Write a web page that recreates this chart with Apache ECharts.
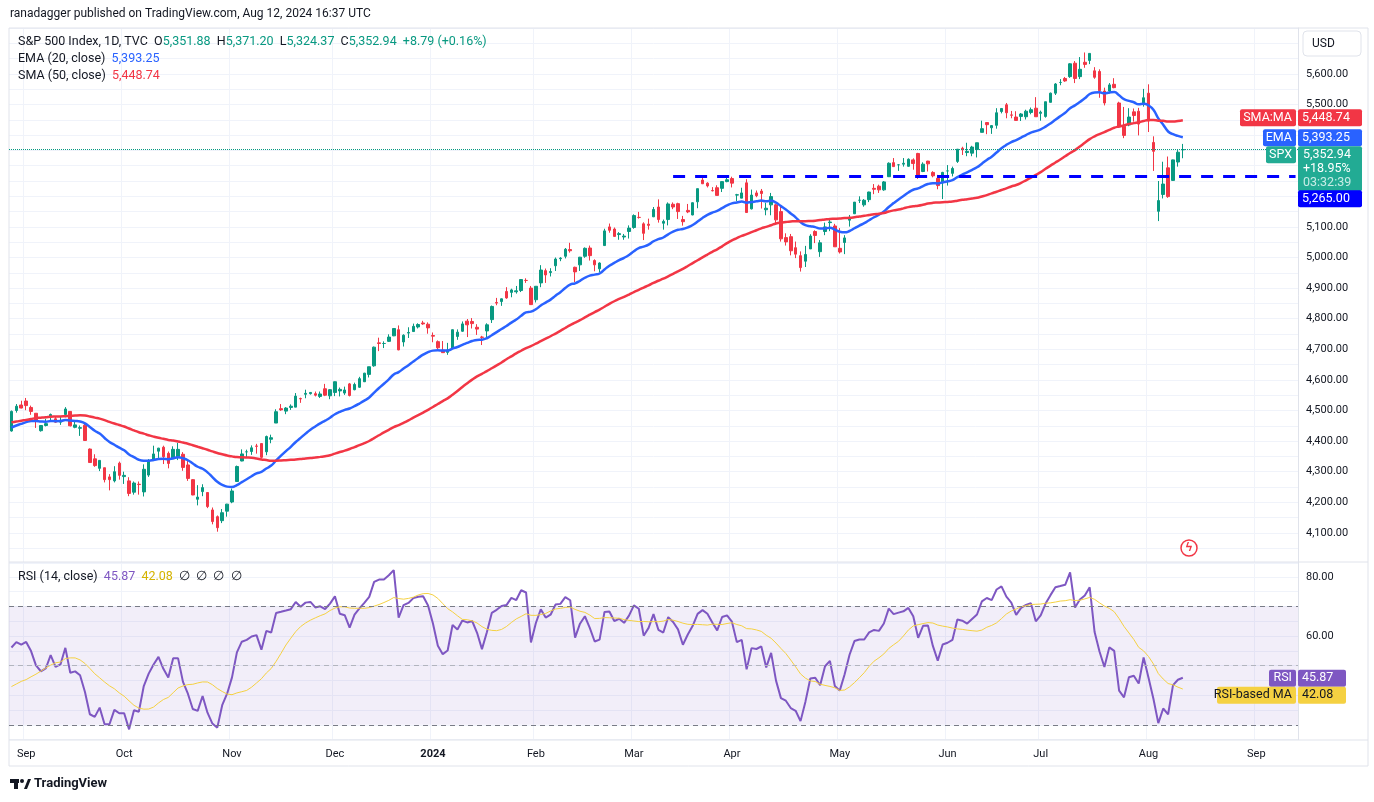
<!DOCTYPE html>
<html><head><meta charset="utf-8">
<script src="https://cdn.jsdelivr.net/npm/echarts@6/dist/echarts.min.js"></script>
<style>html,body{margin:0;padding:0;background:#fff}#c{width:1374px;height:802px}</style>
</head><body><div id="c"></div>
<script>
// warm-up closes (Jun 13 - Aug 28, 2023) used only to seed the moving averages / RSI
const warmupCloses=[4369,4373,4426,4410,4389,4366,4382,4348,4328,4378,4377,4396,4450,4455,4447,4412,4399,4410,4439,4472,4510,4505,4522,4555,4565,4534,4536,4555,4567,4566,4537,4582,4589,4577,4513,4502,4478,4518,4499,4468,4469,4464,4490,4437,4404,4370,4370,4400,4388,4436,4376,4406,4433];
// daily bars: date, open, high, low, close
const bars=[
['2023-08-29',4433,4500,4431,4497],['2023-08-30',4500,4521,4493,4514],['2023-08-31',4518,4532,4507,4508],
['2023-09-01',4531,4541,4501,4516],['2023-09-05',4510,4516,4486,4497],['2023-09-06',4491,4491,4443,4465],['2023-09-07',4434,4452,4431,4451],['2023-09-08',4451,4473,4448,4457],['2023-09-11',4480,4490,4468,4487],['2023-09-12',4473,4481,4460,4462],['2023-09-13',4462,4479,4453,4467],['2023-09-14',4487,4511,4478,4505],['2023-09-15',4497,4497,4448,4450],['2023-09-18',4445,4466,4442,4453],['2023-09-19',4442,4451,4417,4444],['2023-09-20',4452,4461,4401,4402],['2023-09-21',4374,4376,4329,4330],['2023-09-22',4342,4357,4316,4320],['2023-09-25',4311,4338,4302,4337],['2023-09-26',4313,4313,4265,4274],['2023-09-27',4283,4292,4239,4274],['2023-09-28',4270,4318,4265,4300],['2023-09-29',4328,4333,4274,4288],
['2023-10-02',4284,4300,4260,4288],['2023-10-03',4270,4282,4220,4229],['2023-10-04',4233,4268,4225,4263],['2023-10-05',4259,4268,4225,4258],['2023-10-06',4234,4324,4219,4308],['2023-10-09',4289,4341,4283,4336],['2023-10-10',4339,4385,4339,4358],['2023-10-11',4367,4378,4345,4377],['2023-10-12',4380,4385,4325,4349],['2023-10-13',4360,4366,4311,4327],['2023-10-16',4342,4383,4342,4373],['2023-10-17',4346,4394,4338,4373],['2023-10-18',4357,4364,4303,4314],['2023-10-19',4322,4339,4270,4278],['2023-10-20',4274,4276,4223,4224],['2023-10-23',4210,4256,4190,4217],['2023-10-24',4235,4259,4220,4248],['2023-10-25',4232,4232,4181,4186],['2023-10-26',4175,4183,4128,4137],['2023-10-27',4153,4157,4104,4117],['2023-10-30',4140,4178,4132,4166],['2023-10-31',4171,4195,4153,4194],
['2023-11-01',4201,4245,4197,4237],['2023-11-02',4268,4320,4268,4317],['2023-11-03',4335,4373,4334,4358],['2023-11-06',4365,4372,4347,4365],['2023-11-07',4366,4386,4355,4378],['2023-11-08',4384,4391,4359,4383],['2023-11-09',4392,4393,4343,4347],['2023-11-10',4365,4418,4354,4415],['2023-11-13',4406,4421,4393,4411],['2023-11-14',4459,4504,4459,4496],['2023-11-15',4506,4521,4499,4502],['2023-11-16',4498,4511,4488,4508],['2023-11-17',4510,4520,4502,4514],['2023-11-20',4511,4557,4511,4547],['2023-11-21',4539,4542,4525,4538],['2023-11-22',4553,4568,4540,4556],['2023-11-24',4555,4560,4552,4559],['2023-11-27',4555,4562,4546,4550],['2023-11-28',4546,4562,4541,4554],['2023-11-29',4571,4587,4547,4550],['2023-11-30',4548,4570,4537,4568],
['2023-12-01',4559,4595,4547,4594],['2023-12-04',4564,4575,4546,4569],['2023-12-05',4557,4578,4551,4567],['2023-12-06',4587,4590,4546,4549],['2023-12-07',4568,4591,4566,4585],['2023-12-08',4576,4610,4574,4604],['2023-12-11',4594,4623,4593,4622],['2023-12-12',4618,4643,4608,4643],['2023-12-13',4646,4709,4643,4707],['2023-12-14',4721,4738,4694,4719],['2023-12-15',4719,4726,4704,4719],['2023-12-18',4726,4749,4724,4740],['2023-12-19',4744,4768,4743,4768],['2023-12-20',4764,4778,4697,4698],['2023-12-21',4724,4749,4709,4746],['2023-12-22',4753,4772,4737,4755],['2023-12-26',4758,4784,4758,4775],['2023-12-27',4773,4785,4768,4781],['2023-12-28',4786,4793,4780,4783],['2023-12-29',4782,4788,4751,4770],
['2024-01-02',4745,4755,4723,4743],['2024-01-03',4725,4729,4699,4705],['2024-01-04',4697,4727,4688,4689],['2024-01-05',4690,4721,4682,4697],['2024-01-08',4703,4765,4703,4764],['2024-01-09',4742,4765,4731,4756],['2024-01-10',4759,4791,4757,4783],['2024-01-11',4792,4799,4740,4780],['2024-01-12',4791,4802,4768,4784],['2024-01-16',4772,4782,4747,4766],['2024-01-17',4740,4744,4714,4739],['2024-01-18',4760,4785,4740,4780],['2024-01-19',4797,4843,4786,4840],['2024-01-22',4853,4868,4844,4851],['2024-01-23',4856,4866,4842,4865],['2024-01-24',4889,4903,4865,4868],['2024-01-25',4886,4898,4870,4894],['2024-01-26',4888,4907,4882,4891],['2024-01-29',4892,4929,4887,4928],['2024-01-30',4925,4932,4917,4925],['2024-01-31',4900,4907,4845,4846],
['2024-02-01',4862,4906,4853,4906],['2024-02-02',4917,4975,4903,4959],['2024-02-05',4957,4964,4917,4943],['2024-02-06',4951,4965,4938,4954],['2024-02-07',4973,5000,4956,4995],['2024-02-08',4996,5001,4988,4998],['2024-02-09',5004,5031,4997,5027],['2024-02-12',5026,5048,5016,5022],['2024-02-13',4968,4970,4920,4953],['2024-02-14',4976,5002,4956,5001],['2024-02-15',5004,5033,4999,5030],['2024-02-16',5031,5039,4990,5006],['2024-02-20',4990,4994,4955,4976],['2024-02-21',4963,4984,4952,4982],['2024-02-22',5039,5094,5039,5087],['2024-02-23',5100,5111,5081,5089],['2024-02-26',5093,5098,5068,5069],['2024-02-27',5075,5083,5058,5078],['2024-02-28',5067,5077,5058,5070],['2024-02-29',5085,5105,5062,5096],
['2024-03-01',5098,5141,5094,5137],['2024-03-04',5131,5149,5127,5131],['2024-03-05',5110,5115,5057,5079],['2024-03-06',5109,5127,5091,5105],['2024-03-07',5133,5165,5132,5157],['2024-03-08',5165,5190,5114,5124],['2024-03-11',5112,5124,5091,5118],['2024-03-12',5124,5180,5105,5175],['2024-03-13',5174,5180,5158,5165],['2024-03-14',5176,5179,5126,5150],['2024-03-15',5124,5136,5104,5117],['2024-03-18',5154,5175,5145,5149],['2024-03-19',5139,5180,5138,5179],['2024-03-20',5182,5225,5161,5225],['2024-03-21',5253,5261,5240,5241],['2024-03-22',5243,5246,5229,5234],['2024-03-25',5219,5230,5216,5218],['2024-03-26',5228,5236,5203,5203],['2024-03-27',5226,5249,5214,5248],['2024-03-28',5248,5264,5246,5254],
['2024-04-01',5258,5264,5229,5243],['2024-04-02',5204,5208,5184,5205],['2024-04-03',5194,5228,5194,5211],['2024-04-04',5244,5256,5146,5147],['2024-04-05',5159,5222,5157,5204],['2024-04-08',5211,5219,5197,5202],['2024-04-09',5217,5224,5160,5209],['2024-04-10',5156,5179,5138,5161],['2024-04-11',5172,5211,5138,5199],['2024-04-12',5172,5175,5107,5123],['2024-04-15',5150,5169,5052,5061],['2024-04-16',5065,5079,5039,5051],['2024-04-17',5068,5077,5007,5022],['2024-04-18',5032,5052,4998,5011],['2024-04-19',5006,5020,4954,4967],['2024-04-22',4988,5038,4969,5010],['2024-04-23',5028,5076,5028,5070],['2024-04-24',5085,5089,5047,5072],['2024-04-25',5019,5057,5002,5048],['2024-04-26',5085,5114,5073,5100],['2024-04-29',5114,5124,5086,5116],['2024-04-30',5103,5110,5035,5035],
['2024-05-01',5030,5096,5013,5018],['2024-05-02',5049,5073,5011,5064],['2024-05-03',5122,5139,5101,5128],['2024-05-06',5143,5181,5142,5181],['2024-05-07',5187,5200,5178,5187],['2024-05-08',5172,5191,5166,5187],['2024-05-09',5189,5215,5181,5214],['2024-05-10',5226,5240,5207,5223],['2024-05-13',5233,5238,5211,5221],['2024-05-14',5221,5250,5218,5247],['2024-05-15',5264,5311,5263,5308],['2024-05-16',5310,5325,5297,5297],['2024-05-17',5303,5305,5283,5303],['2024-05-20',5305,5325,5297,5308],['2024-05-21',5298,5324,5297,5321],['2024-05-22',5319,5324,5287,5307],['2024-05-23',5340,5342,5257,5268],['2024-05-24',5281,5311,5279,5305],['2024-05-28',5315,5316,5281,5306],['2024-05-29',5278,5282,5262,5267],['2024-05-30',5259,5270,5223,5235],['2024-05-31',5244,5280,5191,5278],
['2024-06-03',5283,5302,5235,5283],['2024-06-04',5275,5297,5265,5291],['2024-06-05',5314,5354,5309,5354],['2024-06-06',5357,5362,5335,5352],['2024-06-07',5343,5375,5331,5347],['2024-06-10',5341,5365,5331,5361],['2024-06-11',5353,5375,5327,5375],['2024-06-12',5409,5447,5409,5421],['2024-06-13',5441,5442,5403,5434],['2024-06-14',5424,5432,5404,5431],['2024-06-17',5432,5488,5421,5473],['2024-06-18',5477,5488,5471,5487],['2024-06-20',5499,5505,5455,5473],['2024-06-21',5466,5479,5455,5465],['2024-06-24',5459,5478,5448,5448],['2024-06-25',5461,5472,5446,5469],['2024-06-26',5460,5483,5451,5478],['2024-06-27',5474,5490,5468,5483],['2024-06-28',5488,5524,5460,5460],
['2024-07-01',5471,5480,5447,5475],['2024-07-02',5461,5509,5457,5509],['2024-07-03',5507,5539,5507,5537],['2024-07-05',5537,5570,5531,5567],['2024-07-08',5572,5583,5563,5572],['2024-07-09',5585,5590,5574,5577],['2024-07-10',5591,5635,5587,5633],['2024-07-11',5635,5642,5570,5585],['2024-07-12',5591,5655,5583,5615],['2024-07-15',5638,5670,5620,5631],['2024-07-16',5644,5667,5632,5667],['2024-07-17',5610,5622,5584,5589],['2024-07-18',5608,5615,5522,5545],['2024-07-19',5544,5555,5497,5505],['2024-07-22',5544,5570,5536,5564],['2024-07-23',5566,5586,5553,5555],['2024-07-24',5505,5509,5426,5427],['2024-07-25',5429,5492,5390,5399],['2024-07-26',5433,5488,5429,5459],['2024-07-29',5476,5487,5444,5464],['2024-07-30',5478,5489,5399,5436],['2024-07-31',5505,5551,5493,5522],
['2024-08-01',5537,5566,5410,5446],['2024-08-02',5376,5396,5283,5347],['2024-08-05',5151,5250,5119,5186],['2024-08-06',5206,5313,5193,5240],['2024-08-07',5293,5330,5195,5199],['2024-08-08',5252,5320,5250,5319],['2024-08-09',5312,5351,5297,5344],['2024-08-12',5351.88,5371.2,5324.37,5352.94]
];
const futureDates=['2024-08-13','2024-08-14','2024-08-15','2024-08-16','2024-08-19','2024-08-20','2024-08-21','2024-08-22','2024-08-23','2024-08-26','2024-08-27','2024-08-28','2024-08-29','2024-08-30','2024-09-03','2024-09-04','2024-09-05','2024-09-06','2024-09-09','2024-09-10','2024-09-11','2024-09-12','2024-09-13'];
const supportLevel=5265;
const supportStart='2024-03-13';
const lastInfo={o:5351.88,h:5371.20,l:5324.37,c:5352.94,chg:'+8.79 (+0.16%)',ema:5393.25,sma:5448.74,rsi:45.87,rsiMa:42.08,pct:'+18.95%',timer:'03:32:39'};
const monthNames=['Jan','Feb','Mar','Apr','May','Jun','Jul','Aug','Sep','Oct','Nov','Dec'];

// ---- derived indicators ----
const dates=bars.map(b=>b[0]);
const cats=dates.concat(futureDates);
const closes=bars.map(b=>b[4]);
const all=warmupCloses.concat(closes);
const W=warmupCloses.length;
function ema(arr,n){const k=2/(n+1);let out=[];let e=arr.slice(0,n).reduce((a,b)=>a+b,0)/n;for(let i=0;i<arr.length;i++){if(i<n){out.push(null);if(i==n-1)out[i]=e;continue;}e=arr[i]*k+e*(1-k);out.push(e);}return out;}
function sma(arr,n){return arr.map((v,i)=>{if(i<n-1||v==null)return null;let s=0;for(let j=i-n+1;j<=i;j++){if(arr[j]==null)return null;s+=arr[j];}return s/n;});}
function rsi(arr,n){let out=[null];let ag=0,al=0;for(let i=1;i<arr.length;i++){const d=arr[i]-arr[i-1];const g=Math.max(d,0),l=Math.max(-d,0);if(i<=n){ag+=g/n;al+=l/n;out.push(i==n?100-100/(1+ag/al):null);}else{ag=(ag*(n-1)+g)/n;al=(al*(n-1)+l)/n;out.push(100-100/(1+ag/al));}}return out;}
const emaAll=ema(all,20), smaAll=sma(all,50), rsiAll=rsi(all,14), rsiMaAll=sma(rsiAll,14);
const emaS=emaAll.slice(W), smaS=smaAll.slice(W), rsiS=rsiAll.slice(W), rsiMaS=rsiMaAll.slice(W);
const ohlc=bars.map(b=>[b[1],b[4],b[3],b[2]]);

function isMonthStart(i){if(i==0)return false;return cats[i].slice(5,7)!==cats[i-1].slice(5,7);}
function monthLabel(v){const m=+v.slice(5,7);return m==1?'{b|'+v.slice(0,4)+'}':monthNames[m-1];}
const fmt=v=>v.toLocaleString('en-US',{minimumFractionDigits:2,maximumFractionDigits:2});

const UP='#089981',DN='#f23645',EMA='#2962ff',SMA='#f23645',RSI='#7e57c2',RMA='#f5d142';
const gridCol='#f0f3fa';
const F='12.5px Roboto, sans-serif';
const chart=echarts.init(document.getElementById('c'));
const xBase={type:'category',data:cats,boundaryGap:true,axisTick:{show:false},axisLine:{show:false},
  splitLine:{show:true,interval:(i)=>isMonthStart(i),lineStyle:{color:gridCol}}};
chart.setOption({
  animation:false,backgroundColor:'#fff',
  textStyle:{fontFamily:'Roboto, "DejaVu Sans", sans-serif'},
  grid:[{left:9,right:76,top:28,height:535.5},{left:9,right:76,top:562,height:177.6}],
  xAxis:[Object.assign({},xBase,{gridIndex:0,axisLabel:{show:false}}),
         Object.assign({},xBase,{gridIndex:1,axisLabel:{show:true,interval:(i)=>isMonthStart(i),formatter:monthLabel,color:'#131722',fontSize:11,margin:9,rich:{b:{fontWeight:'bold',fontSize:11,color:'#131722'}}}})],
  yAxis:[{type:'value',gridIndex:0,position:'right',min:4000,max:5750,interval:50,
    axisLine:{show:true,lineStyle:{color:'#e0e3eb'}},axisTick:{show:false},
    splitLine:{show:true,interval:0,lineStyle:{color:gridCol}},
    axisLabel:{color:'#131722',fontSize:11,margin:8,formatter:v=>(v%100==0&&v>4000&&v<5700)?fmt(v):''}},
   {type:'value',gridIndex:1,position:'right',min:25,max:85,interval:5,
    axisLine:{show:true,lineStyle:{color:'#e0e3eb'}},axisTick:{show:false},
    splitLine:{show:true,lineStyle:{color:gridCol},interval:0},
    axisLabel:{color:'#131722',fontSize:11,margin:8,formatter:v=>(v==60||v==80)?fmt(v):''}}],
  series:[
   {type:'candlestick',xAxisIndex:0,yAxisIndex:0,data:ohlc,barWidth:'62%',
    itemStyle:{color:UP,color0:DN,borderColor:UP,borderColor0:DN,borderWidth:1},
    markLine:{symbol:'none',silent:true,label:{show:false},data:[
      {yAxis:lastInfo.c,lineStyle:{color:UP,type:'dotted',width:1}},
      [{coord:[supportStart,supportLevel],lineStyle:{color:'#0000ff',type:[12,10],width:3}},{coord:[cats[cats.length-1],supportLevel]}]
    ]}},
   {type:'line',xAxisIndex:0,yAxisIndex:0,data:emaS,showSymbol:false,smooth:true,lineStyle:{color:EMA,width:2.5}},
   {type:'line',xAxisIndex:0,yAxisIndex:0,data:smaS,showSymbol:false,smooth:true,lineStyle:{color:SMA,width:2.5}},
   {type:'line',xAxisIndex:1,yAxisIndex:1,data:rsiS,showSymbol:false,lineStyle:{color:RSI,width:2},
    markArea:{silent:true,itemStyle:{color:'rgba(126,87,194,0.1)'},data:[[{yAxis:30},{yAxis:70}]]},
    markLine:{symbol:'none',silent:true,label:{show:false},lineStyle:{color:'#787b86',type:[5,4],width:1},data:[{yAxis:70},{yAxis:50,lineStyle:{color:'#b2b5be'}},{yAxis:30}]}},
   {type:'line',xAxisIndex:1,yAxisIndex:1,data:rsiMaS,showSymbol:false,lineStyle:{color:RMA,width:1}}
  ]
});
// annotations positioned from the axes, stacked so they do not overlap
const py=v=>chart.convertToPixel({yAxisIndex:0},v);
const ry=v=>chart.convertToPixel({yAxisIndex:1},v);
const AX=1298;
const Z=100;
function tag(x,y,w,h,fill,text,color,align){return [{type:'rect',z:Z,shape:{x:x,y:y,width:w,height:h,r:2},style:{fill:fill}},
 {type:'text',z:Z+1,x:align=='right'?x+w-4:x+4,y:y+h/2,style:{text:text,fill:color||'#fff',font:F,textAlign:align||'left',textVerticalAlign:'middle'}}];}
let g=[];
const H=17;
const ySma=py(lastInfo.sma)-3;
const yEma=Math.max(py(lastInfo.ema),ySma+H);
const yC=Math.max(py(lastInfo.c)-2,yEma+H);
const yS=Math.max(py(supportLevel),yC-8+45+7);
g=g.concat(tag(AX,ySma-8,64,H,SMA,fmt(lastInfo.sma)),tag(1240,ySma-8,56,H,SMA,'SMA:MA','#fff','right'));
g=g.concat(tag(AX,yEma-8,64,H,EMA,fmt(lastInfo.ema)),tag(1263,yEma-8,33,H,EMA,'EMA','#fff','right'));
g.push({type:'rect',z:Z,shape:{x:AX,y:yC-8,width:64,height:45,r:2},style:{fill:'#22ab94'}});
g.push({type:'text',z:Z+1,x:AX+5,y:yC+1,style:{text:fmt(lastInfo.c),fill:'#fff',font:F,textVerticalAlign:'middle'}});
g.push({type:'text',z:Z+1,x:AX+5,y:yC+15,style:{text:lastInfo.pct,fill:'#fff',font:F,textVerticalAlign:'middle'}});
g.push({type:'text',z:Z+1,x:AX+5,y:yC+29,style:{text:lastInfo.timer,fill:'#c8ece6',font:F,textVerticalAlign:'middle'}});
g=g.concat(tag(1266,yC-8,30,H,'#22ab94','SPX','#fff','right'));
g=g.concat(tag(AX,yS-8,64,H,'#0000ff',fmt(supportLevel)));
const yR=ry(lastInfo.rsi), yRm=Math.max(ry(lastInfo.rsiMa),yR+H);
g=g.concat(tag(AX,yR-8,48,H,RSI,fmt(lastInfo.rsi)),tag(1269,yR-8,27,H,RSI,'RSI','#fff','right'));
g=g.concat(tag(AX,yRm-8,48,H,RMA,fmt(lastInfo.rsiMa),'#131722'),tag(1217,yRm-8,79,H,RMA,'RSI-based MA','#131722','right'));
// USD box
g.push({type:'rect',z:Z,shape:{x:1303,y:31,width:58,height:25,r:4},style:{fill:'#fff',stroke:'#e0e3eb'}});
g.push({type:'text',z:Z+1,x:1312,y:44,style:{text:'USD',fill:'#131722',font:'12px Roboto, sans-serif',textVerticalAlign:'middle'}});
// frame lines
g.push({type:'line',shape:{x1:9,y1:562,x2:1368,y2:562},style:{stroke:'#e0e3eb',lineWidth:1}});
g.push({type:'line',shape:{x1:9,y1:740,x2:1368,y2:740},style:{stroke:'#e0e3eb',lineWidth:1}});
g.push({type:'rect',shape:{x:9,y:28,width:1359,height:738},style:{fill:'none',stroke:'#e0e3eb',lineWidth:1}});
// header texts
g.push({type:'text',x:10,y:14,style:{text:'ranadagger published on TradingView.com, Aug 12, 2024 16:37 UTC',fill:'#131722',font:'12px Roboto, sans-serif',textVerticalAlign:'middle'}});
g.push({type:'text',x:18,y:42,style:{rich:{a:{fill:'#131722',font:F},v:{fill:UP,font:F}},
 text:'{a|S&P 500 Index, 1D, TVC  O}{v|'+fmt(lastInfo.o)+'}{a|  H}{v|'+fmt(lastInfo.h)+'}{a|  L}{v|'+fmt(lastInfo.l)+'}{a|  C}{v|'+fmt(lastInfo.c)+'  '+lastInfo.chg+'}',textVerticalAlign:'middle'}});
g.push({type:'text',x:18,y:59,style:{rich:{a:{fill:'#131722',font:F},v:{fill:EMA,font:F}},text:'{a|EMA (20, close)  }{v|'+fmt(lastInfo.ema)+'}',textVerticalAlign:'middle'}});
g.push({type:'text',x:18,y:76,style:{rich:{a:{fill:'#131722',font:F},v:{fill:SMA,font:F}},text:'{a|SMA (50, close)  }{v|'+fmt(lastInfo.sma)+'}',textVerticalAlign:'middle'}});
g.push({type:'text',x:18,y:577,style:{rich:{a:{fill:'#131722',font:F},v:{fill:RSI,font:F},m:{fill:'#d4b300',font:F}},text:'{a|RSI (14, close)  }{v|'+fmt(lastInfo.rsi)+'}{a|  }{m|'+fmt(lastInfo.rsiMa)+'}{a|  ∅  ∅  ∅  ∅}',textVerticalAlign:'middle'}});
// TradingView logo (simple shapes) + wordmark
g.push({type:'rect',shape:{x:10,y:779,width:9,height:4},style:{fill:'#131722'}});
g.push({type:'rect',shape:{x:14,y:779,width:4,height:10},style:{fill:'#131722'}});
g.push({type:'circle',shape:{cx:22,cy:781,r:2},style:{fill:'#131722'}});
g.push({type:'polygon',shape:{points:[[24,789],[28,779],[31,779],[27,789]]},style:{fill:'#131722'}});
g.push({type:'text',x:34,y:784,style:{text:'TradingView',fill:'#131722',font:'bold 13px Roboto, sans-serif',textVerticalAlign:'middle'}});
g.push({type:'circle',shape:{cx:1189,cy:548,r:8},style:{fill:'#fff',stroke:'#f23645',lineWidth:1.5}});
g.push({type:'text',x:1189,y:548,style:{text:'ϟ',fill:'#f23645',font:'bold 12px sans-serif',textAlign:'center',textVerticalAlign:'middle'}});
chart.setOption({graphic:g});
</script></body></html>
